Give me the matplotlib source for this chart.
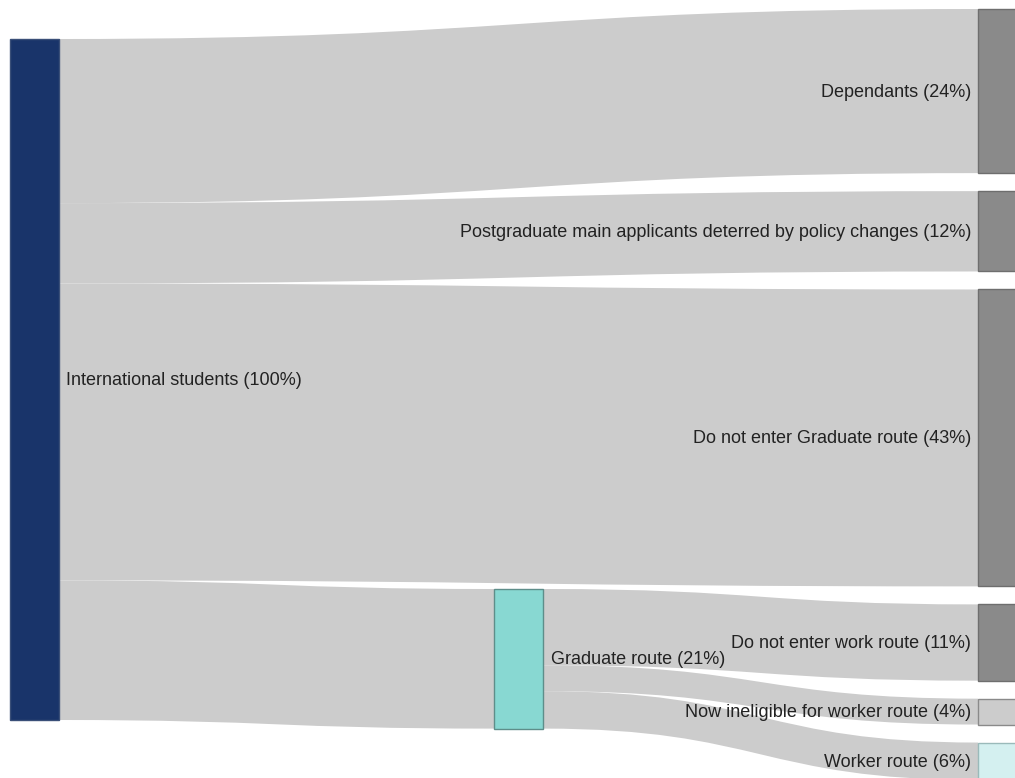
#!/usr/bin/env python3
"""
Sankey: where international students go (Graduate route flows)
"""

import matplotlib.pyplot as plt
from matplotlib.path import Path
from matplotlib.patches import PathPatch, Rectangle

# --- data (share of international students, %) ---
source_label = "International students (100%)"
first_targets = ["Dependants", "Postgraduate main applicants deterred by policy changes",
                 "Do not enter Graduate route", "Graduate route"]
first_values = [24.1, 11.8, 43.6, 20.5]
first_labels = ["Dependants (24%)", "Postgraduate main applicants deterred by policy changes (12%)",
                "Do not enter Graduate route (43%)", "Graduate route (21%)"]
grad_targets = ["Do not enter work route", "Now ineligible for worker route", "Worker route"]
grad_values = [11.2, 3.8, 5.5]
grad_labels = ["Do not enter work route (11%)", "Now ineligible for worker route (4%)",
               "Worker route (6%)"]

# --- layout (pixels) ---
W, H = 1015, 778
K = 6.81          # px per percentage point
NODE_W = 49
PAD = 18
SRC_X, SRC_Y = 10, 39
MID_X, MID_Y = 494, 589
RIGHT_X, RIGHT_Y = 978, 9

LINK_C = "#cccccc"
TEXT_C = "#222222"
FONT = ["Liberation Sans", "DejaVu Sans"]
FS = 13


def link(ax, x0, y0, x1, y1, h):
    xm = (x0 + x1) / 2
    verts = [(x0, y0), (xm, y0), (xm, y1), (x1, y1),
             (x1, y1 + h), (xm, y1 + h), (xm, y0 + h), (x0, y0 + h), (x0, y0)]
    codes = [Path.MOVETO, Path.CURVE4, Path.CURVE4, Path.CURVE4,
             Path.LINETO, Path.CURVE4, Path.CURVE4, Path.CURVE4, Path.CLOSEPOLY]
    ax.add_patch(PathPatch(Path(verts, codes), facecolor=LINK_C, edgecolor="none", zorder=1))


def node(ax, x, y, h, fc, ec):
    ax.add_patch(Rectangle((x, y), NODE_W, h, facecolor=fc, edgecolor=ec, lw=1.0, zorder=3))


def main():
    fig = plt.figure(figsize=(W / 100, H / 100), dpi=100)
    ax = fig.add_axes([0, 0, 1, 1])
    ax.set_xlim(0, W)
    ax.set_ylim(H, 0)
    ax.axis("off")

    # right column node positions
    right_vals = first_values[:3] + grad_values
    right_y = []
    y = RIGHT_Y
    for v in right_vals:
        right_y.append(y)
        y += v * K + PAD

    # source -> first targets
    sy = SRC_Y
    for i, v in enumerate(first_values):
        h = v * K
        if i < 3:
            link(ax, SRC_X + NODE_W, sy, RIGHT_X, right_y[i], h)
        else:
            link(ax, SRC_X + NODE_W, sy, MID_X, MID_Y, h)
        sy += h

    # graduate route -> outcomes
    gy = MID_Y
    for j, v in enumerate(grad_values):
        h = v * K
        link(ax, MID_X + NODE_W, gy, RIGHT_X, right_y[3 + j], h)
        gy += h

    # nodes
    node(ax, SRC_X, SRC_Y, sum(first_values) * K, "#19346a", "#3a4f78")
    node(ax, MID_X, MID_Y, first_values[3] * K, "#88d8d2", "#5e8e8a")
    right_fc = ["#8a8a8a", "#8a8a8a", "#8a8a8a", "#8a8a8a", "#cccccc", "#d4f0f0"]
    right_ec = ["#6e6e6e", "#6e6e6e", "#6e6e6e", "#6e6e6e", "#8a8a8a", "#9ababa"]
    for i, v in enumerate(right_vals):
        node(ax, RIGHT_X, right_y[i], v * K, right_fc[i], right_ec[i])

    # labels
    ax.text(SRC_X + NODE_W + 7, SRC_Y + sum(first_values) * K / 2 + 1, source_label,
            ha="left", va="center", fontsize=FS, color=TEXT_C, family=FONT, zorder=5)
    ax.text(MID_X + NODE_W + 8, MID_Y + first_values[3] * K / 2 + 1, first_labels[3],
            ha="left", va="center", fontsize=FS, color=TEXT_C, family=FONT, zorder=5)
    right_labels = first_labels[:3] + grad_labels
    for i, v in enumerate(right_vals):
        ax.text(RIGHT_X - 7, right_y[i] + v * K / 2 + 1, right_labels[i],
                ha="right", va="center", fontsize=FS, color=TEXT_C, family=FONT, zorder=5)

    fig.savefig("out.png", dpi=100, facecolor="white")
    plt.close(fig)


if __name__ == "__main__":
    main()
